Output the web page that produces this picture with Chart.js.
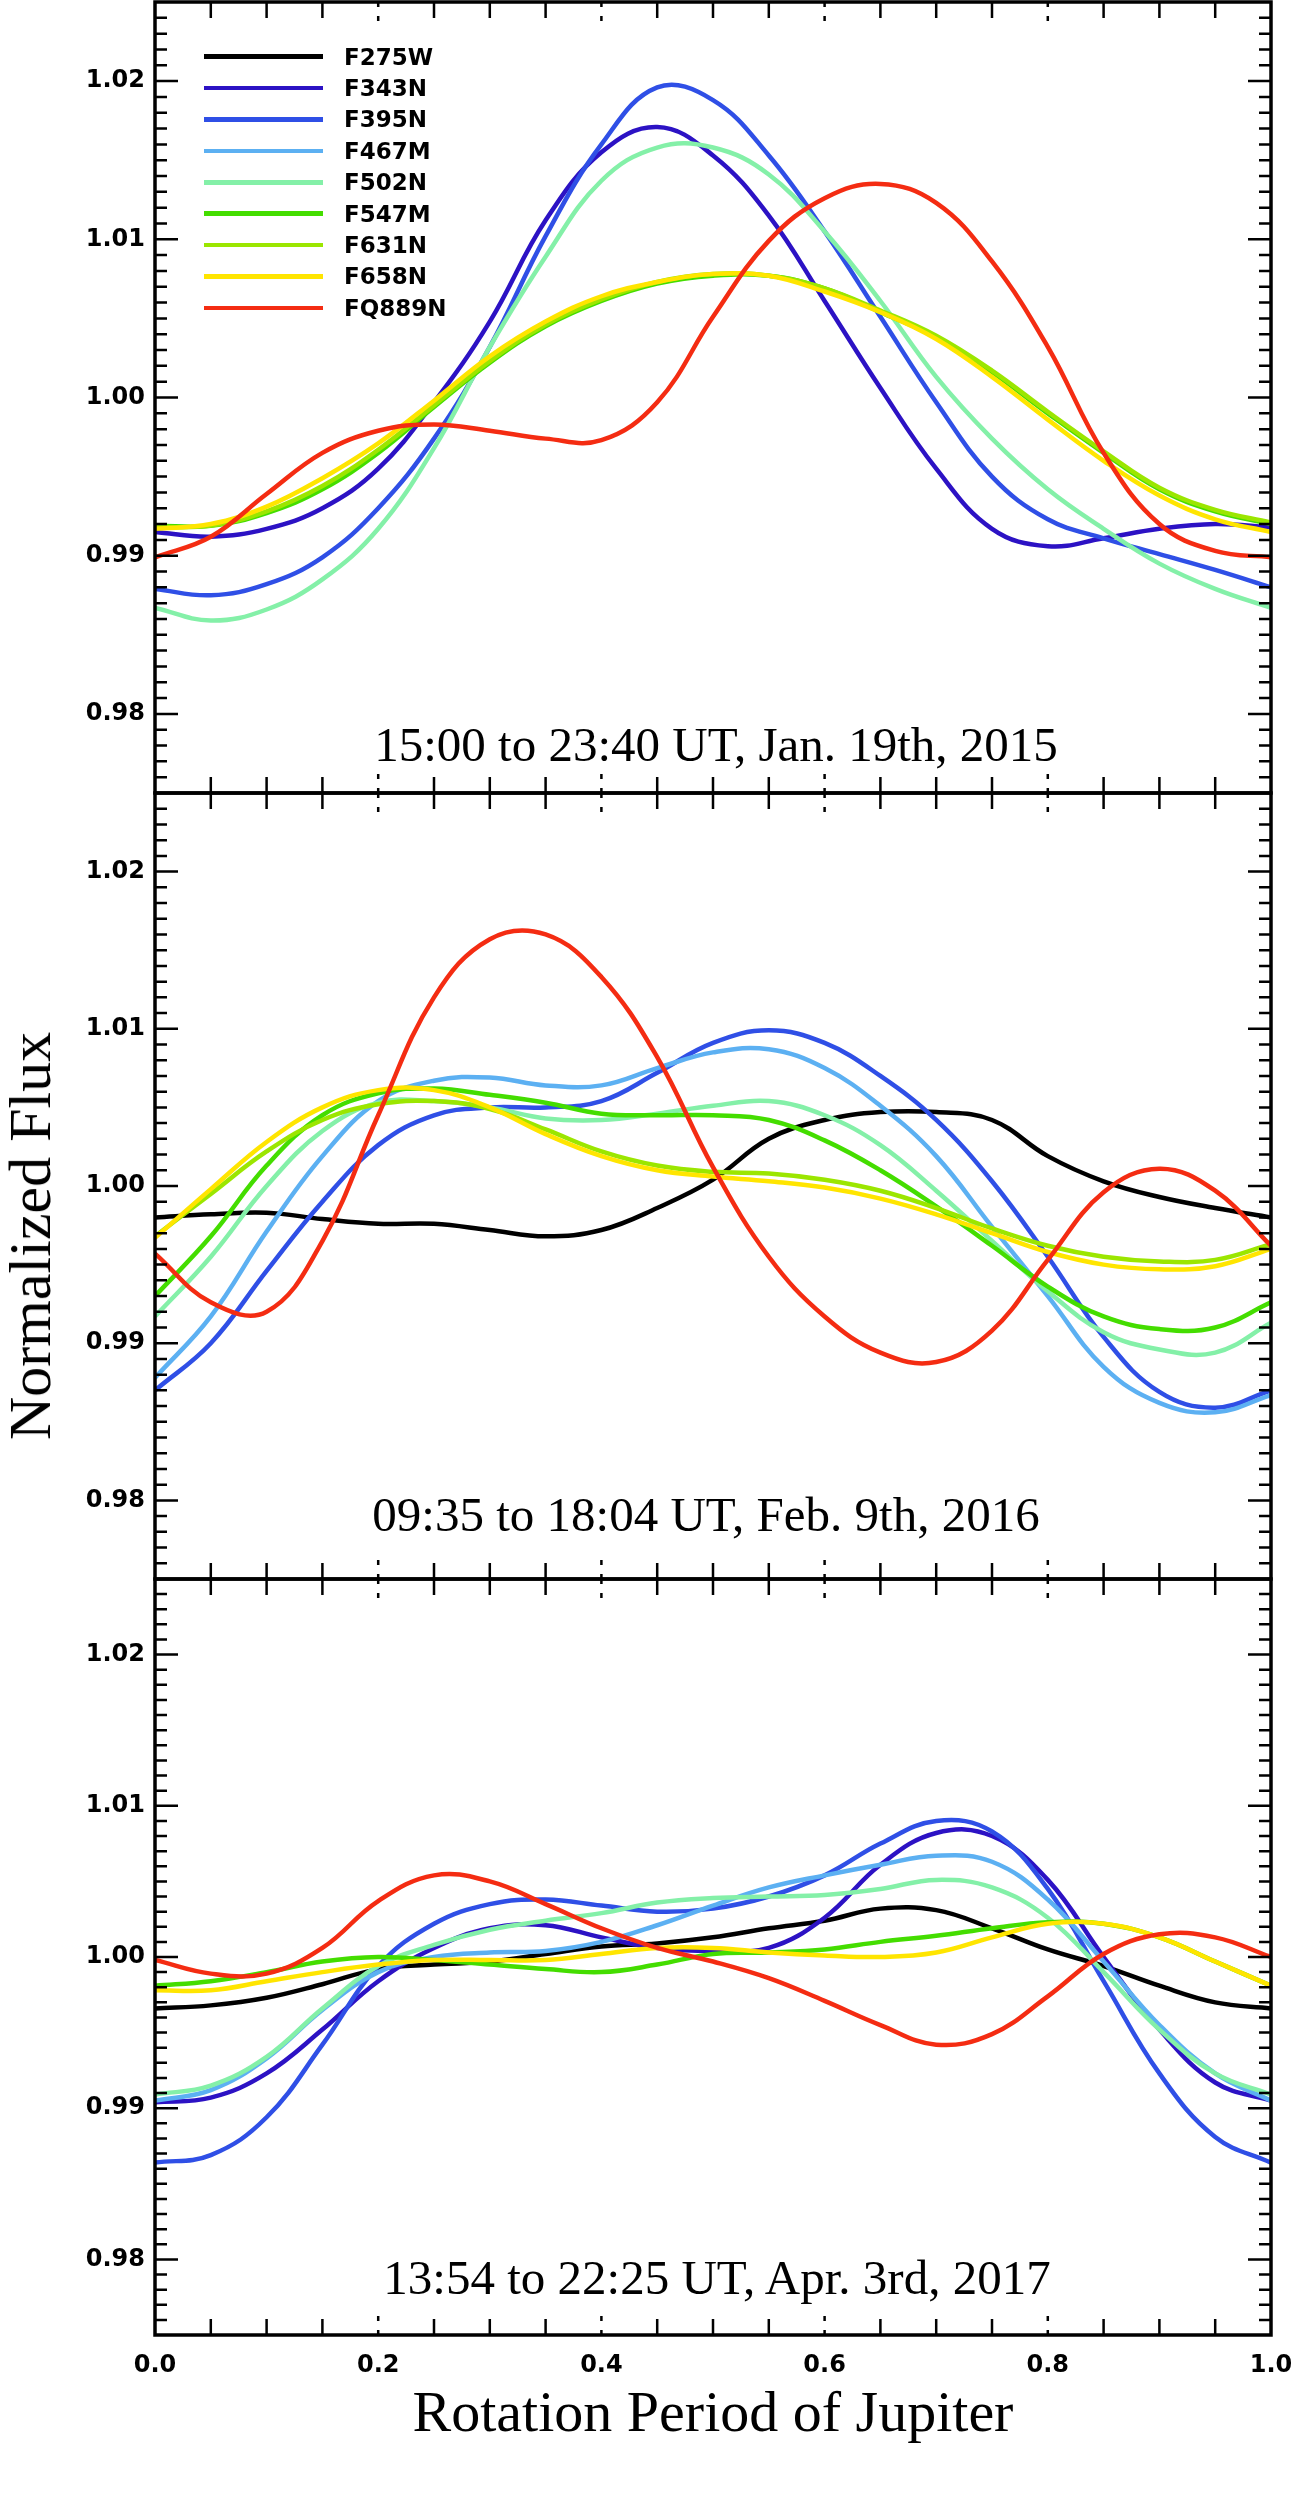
<!DOCTYPE html>
<html>
<head>
<meta charset="utf-8">
<title>Normalized Flux vs Rotation Period of Jupiter</title>
<script src="https://cdn.jsdelivr.net/npm/chart.js@4.4.1/dist/chart.umd.min.js"></script>
<style>
  body { margin: 0; background: #fff; width: 1291px; height: 2519px; position: relative; overflow: hidden; }
  canvas { position: absolute; left: 0; }
  .serif { position: absolute; font-family: "Liberation Serif", "Times New Roman", serif; color: #000; white-space: nowrap; }
  .note { font-size: 49px; line-height: 49px; transform: translateX(-50%); }
  #xtitle { font-size: 58px; line-height: 58px; left: 713px; top: 2383px; transform: translateX(-50%); }
  #ytitle { font-size: 60px; line-height: 60px; left: 30px; top: 1236px; transform: translate(-50%, -50%) rotate(-90deg); }
  #legend { position: absolute; left: 204px; top: 41px; font-family: "DejaVu Sans", sans-serif; font-weight: bold; font-size: 23px; }
  #legend .row { display: flex; align-items: center; height: 31.4px; }
  #legend .swatch { width: 119px; height: 4.5px; margin-right: 21px; }
</style>
</head>
<body>

<canvas id="p2015" width="1291" height="795" style="top:0px"></canvas>
<canvas id="p2016" width="1291" height="792" style="top:790px"></canvas>
<canvas id="p2017" width="1291" height="820" style="top:1576px"></canvas>

<div id="legend"></div>
<div class="serif note" style="left:716px; top:720px">15:00 to 23:40 UT, Jan. 19th, 2015</div>
<div class="serif note" style="left:706px; top:1490px">09:35 to 18:04 UT, Feb. 9th, 2016</div>
<div class="serif note" style="left:717px; top:2253px">13:54 to 22:25 UT, Apr. 3rd, 2017</div>
<div class="serif" id="xtitle">Rotation Period of Jupiter</div>
<div class="serif" id="ytitle">Normalized Flux</div>

<script>
// rotation phase of each sample
const phase = [0.00, 0.05, 0.10, 0.15, 0.20, 0.25, 0.30, 0.35, 0.40, 0.45, 0.50,
               0.55, 0.60, 0.65, 0.70, 0.75, 0.80, 0.85, 0.90, 0.95, 1.00];

const filters = ['F275W', 'F343N', 'F395N', 'F467M', 'F502N', 'F547M', 'F631N', 'F658N', 'FQ889N'];
const filterColors = ['#000000', '#2c12c4', '#2f4fe6', '#5cb0f2', '#84f0a8', '#44dd00', '#9be600', '#ffe500', '#f42c12'];

const xTickValues = [0.0, 0.2, 0.4, 0.6, 0.8, 1.0];
const yTickValues = [0.98, 0.99, 1.00, 1.01, 1.02];

// Jan. 19th, 2015
const jan2015_F343N  = [0.9915, 0.9912, 0.9917, 0.9930, 0.9955, 0.9997, 1.0048, 1.0112, 1.0155, 1.0171, 1.0153, 1.0115, 1.0061, 1.0006, 0.9955, 0.9917, 0.9906, 0.9911, 0.9917, 0.9920, 0.9918];
const jan2015_F395N  = [0.9879, 0.9875, 0.9882, 0.9899, 0.9930, 0.9974, 1.0032, 1.0102, 1.0160, 1.0196, 1.0188, 1.0153, 1.0105, 1.0051, 0.9997, 0.9950, 0.9923, 0.9911, 0.9901, 0.9891, 0.9880];
const jan2015_F502N  = [0.9867, 0.9859, 0.9866, 0.9885, 0.9917, 0.9968, 1.0032, 1.0089, 1.0137, 1.0158, 1.0158, 1.0141, 1.0105, 1.0061, 1.0013, 0.9974, 0.9942, 0.9917, 0.9895, 0.9879, 0.9867];
const jan2015_F547M  = [0.9919, 0.9919, 0.9927, 0.9942, 0.9965, 0.9994, 1.0022, 1.0045, 1.0061, 1.0072, 1.0077, 1.0077, 1.0069, 1.0054, 1.0038, 1.0016, 0.9990, 0.9965, 0.9942, 0.9928, 0.9920];
const jan2015_F631N  = [0.9918, 0.9919, 0.9928, 0.9944, 0.9967, 0.9995, 1.0023, 1.0046, 1.0062, 1.0073, 1.0078, 1.0077, 1.0069, 1.0055, 1.0039, 1.0017, 0.9991, 0.9966, 0.9943, 0.9929, 0.9921];
const jan2015_F658N  = [0.9917, 0.9920, 0.9931, 0.9949, 0.9971, 0.9998, 1.0026, 1.0048, 1.0064, 1.0073, 1.0078, 1.0077, 1.0067, 1.0054, 1.0037, 1.0013, 0.9986, 0.9960, 0.9938, 0.9923, 0.9915];
const jan2015_FQ889N = [0.9899, 0.9912, 0.9939, 0.9965, 0.9979, 0.9983, 0.9979, 0.9974, 0.9973, 0.9997, 1.0051, 1.0099, 1.0126, 1.0135, 1.0123, 1.0086, 1.0032, 0.9965, 0.9920, 0.9903, 0.9899];

// Feb. 9th, 2016
const feb2016_F275W  = [0.9980, 0.9982, 0.9983, 0.9979, 0.9976, 0.9976, 0.9972, 0.9968, 0.9972, 0.9986, 1.0004, 1.0030, 1.0042, 1.0047, 1.0047, 1.0042, 1.0019, 1.0003, 0.9993, 0.9986, 0.9980];
const feb2016_F395N  = [0.9870, 0.9900, 0.9946, 0.9990, 1.0026, 1.0045, 1.0050, 1.0050, 1.0054, 1.0072, 1.0091, 1.0099, 1.0091, 1.0070, 1.0042, 1.0003, 0.9955, 0.9904, 0.9869, 0.9859, 0.9870];
const feb2016_F467M  = [0.9878, 0.9917, 0.9971, 1.0019, 1.0054, 1.0067, 1.0069, 1.0064, 1.0064, 1.0075, 1.0085, 1.0087, 1.0075, 1.0051, 1.0019, 0.9974, 0.9930, 0.9885, 0.9862, 0.9856, 0.9867];
const feb2016_F502N  = [0.9917, 0.9955, 1.0000, 1.0035, 1.0053, 1.0054, 1.0050, 1.0043, 1.0042, 1.0046, 1.0051, 1.0054, 1.0045, 1.0026, 0.9997, 0.9965, 0.9933, 0.9907, 0.9896, 0.9894, 0.9913];
const feb2016_F547M  = [0.9930, 0.9968, 1.0013, 1.0045, 1.0059, 1.0062, 1.0058, 1.0053, 1.0046, 1.0045, 1.0045, 1.0042, 1.0029, 1.0010, 0.9987, 0.9962, 0.9936, 0.9917, 0.9909, 0.9910, 0.9926];
const feb2016_F631N  = [0.9968, 0.9995, 1.0022, 1.0042, 1.0052, 1.0054, 1.0049, 1.0036, 1.0022, 1.0013, 1.0009, 1.0008, 1.0004, 0.9997, 0.9986, 0.9973, 0.9962, 0.9955, 0.9952, 0.9953, 0.9963];
const feb2016_F658N  = [0.9967, 0.9998, 1.0028, 1.0050, 1.0061, 1.0061, 1.0050, 1.0033, 1.0019, 1.0010, 1.0006, 1.0003, 0.9999, 0.9992, 0.9982, 0.9970, 0.9958, 0.9950, 0.9947, 0.9949, 0.9960];
const feb2016_FQ889N = [0.9957, 0.9926, 0.9920, 0.9965, 1.0045, 1.0120, 1.0157, 1.0160, 1.0133, 1.0082, 1.0012, 0.9955, 0.9917, 0.9894, 0.9888, 0.9908, 0.9953, 0.9996, 1.0011, 0.9997, 0.9962];

// Apr. 3rd, 2017
const apr2017_F275W  = [0.9966, 0.9968, 0.9973, 0.9982, 0.9992, 0.9995, 0.9997, 1.0002, 1.0007, 1.0009, 1.0013, 1.0019, 1.0024, 1.0032, 1.0031, 1.0019, 1.0005, 0.9994, 0.9981, 0.9970, 0.9966];
const apr2017_F343N  = [0.9904, 0.9907, 0.9923, 0.9952, 0.9984, 1.0006, 1.0019, 1.0021, 1.0013, 1.0006, 1.0004, 1.0006, 1.0026, 1.0061, 1.0082, 1.0080, 1.0051, 1.0000, 0.9952, 0.9917, 0.9905];
const apr2017_F395N  = [0.9864, 0.9869, 0.9894, 0.9942, 0.9994, 1.0022, 1.0035, 1.0038, 1.0034, 1.0030, 1.0032, 1.0040, 1.0054, 1.0075, 1.0090, 1.0083, 1.0045, 0.9984, 0.9923, 0.9881, 0.9864];
const apr2017_F467M  = [0.9905, 0.9912, 0.9933, 0.9965, 0.9990, 1.0000, 1.0003, 1.0004, 1.0010, 1.0021, 1.0034, 1.0046, 1.0054, 1.0061, 1.0067, 1.0063, 1.0038, 0.9997, 0.9955, 0.9923, 0.9905];
const apr2017_F502N  = [0.9909, 0.9915, 0.9934, 0.9966, 0.9994, 1.0008, 1.0018, 1.0024, 1.0029, 1.0036, 1.0039, 1.0040, 1.0041, 1.0045, 1.0051, 1.0046, 1.0026, 0.9990, 0.9952, 0.9923, 0.9909];
const apr2017_F547M  = [0.9981, 0.9984, 0.9990, 0.9997, 1.0000, 0.9998, 0.9995, 0.9992, 0.9990, 0.9995, 1.0002, 1.0003, 1.0005, 1.0010, 1.0014, 1.0019, 1.0023, 1.0022, 1.0013, 0.9997, 0.9981];
const apr2017_F658N  = [0.9978, 0.9978, 0.9984, 0.9990, 0.9995, 0.9998, 0.9998, 0.9998, 1.0002, 1.0006, 1.0006, 1.0003, 1.0001, 1.0000, 1.0003, 1.0013, 1.0022, 1.0022, 1.0013, 0.9997, 0.9981];
const apr2017_FQ889N = [0.9998, 0.9989, 0.9989, 1.0006, 1.0037, 1.0054, 1.0050, 1.0035, 1.0019, 1.0006, 0.9997, 0.9986, 0.9971, 0.9955, 0.9942, 0.9949, 0.9974, 1.0002, 1.0015, 1.0013, 1.0000];

// legend (shown in the top panel)
const legendBox = document.getElementById('legend');
filters.forEach((f, i) => {
  const row = document.createElement('div');
  row.className = 'row';
  row.innerHTML = '<div class="swatch" style="background:' + filterColors[i] + '"></div><span>' + f + '</span>';
  legendBox.appendChild(row);
});

function makeDatasets(names, series) {
  return names.map((name, i) => {
    const k = filters.indexOf(name);
    return {
      label: name,
      data: phase.map((p, j) => ({ x: p, y: series[i][j] })),
      borderColor: filterColors[k],
      borderWidth: 4.5,
      pointRadius: 0,
      tension: 0.4,
      fill: false,
      order: filters.length - k   // later filters drawn on top
    };
  });
}

// box frame plus IDL-like inward ticks on all four sides
const frameTicks = {
  id: 'frameTicks',
  afterDatasetsDraw(chart) {
    const { ctx, chartArea: { left, right, top, bottom }, scales: { x, y } } = chart;
    ctx.save();
    ctx.strokeStyle = '#000';
    ctx.lineWidth = 3.5;
    ctx.strokeRect(left, top, right - left, bottom - top);

    ctx.lineWidth = 2.5;
    for (let k = 1; k < 50; k++) {
      const py = y.getPixelForValue(0.975 + k * 0.001);
      const len = (k % 10 === 5) ? 23 : 12;
      ctx.beginPath();
      ctx.moveTo(left, py); ctx.lineTo(left + len, py);
      ctx.moveTo(right, py); ctx.lineTo(right - len, py);
      ctx.stroke();
    }
    for (let k = 1; k < 20; k++) {
      const px = x.getPixelForValue(k * 0.05);
      const major = k % 4 === 0;
      const len = major ? 22 : 16;
      ctx.setLineDash(major ? [5, 9] : []);
      ctx.beginPath();
      ctx.moveTo(px, bottom); ctx.lineTo(px, bottom - len);
      ctx.moveTo(px, top); ctx.lineTo(px, top + len);
      ctx.stroke();
    }
    ctx.restore();
  }
};

const tickFont = { family: 'DejaVu Sans', size: 24, weight: 'bold' };

function makePanel(id, datasets, showX, padding) {
  return new Chart(document.getElementById(id), {
    type: 'line',
    data: { datasets: datasets },
    options: {
      responsive: false,
      animation: false,
      layout: { padding: padding },
      plugins: { legend: { display: false }, tooltip: { enabled: false } },
      scales: {
        x: {
          type: 'linear',
          min: 0, max: 1,
          display: showX,
          grid: { display: false, drawTicks: false },
          border: { display: false },
          afterBuildTicks: s => { s.ticks = xTickValues.map(v => ({ value: v })); },
          afterFit: s => {
            if (!showX) return;
            s.height = 60; s.paddingLeft = 0; s.paddingRight = 0;
          },
          ticks: { color: '#000', font: tickFont, padding: 16, maxRotation: 0, autoSkip: false,
                   callback: v => v.toFixed(1) }
        },
        y: {
          min: 0.975, max: 1.025,
          grid: { display: false, drawTicks: false },
          border: { display: false },
          afterBuildTicks: s => { s.ticks = yTickValues.map(v => ({ value: v })); },
          afterFit: s => { s.width = 155; s.paddingTop = 0; s.paddingBottom = 0; },
          ticks: { color: '#000', font: tickFont, padding: 10, callback: v => v.toFixed(2) }
        }
      }
    },
    plugins: [frameTicks]
  });
}

makePanel('p2015', makeDatasets(
  ['F343N', 'F395N', 'F502N', 'F547M', 'F631N', 'F658N', 'FQ889N'],
  [jan2015_F343N, jan2015_F395N, jan2015_F502N, jan2015_F547M, jan2015_F631N, jan2015_F658N, jan2015_FQ889N]
), false, { top: 2, bottom: 2, left: 0, right: 20 });

makePanel('p2016', makeDatasets(
  ['F275W', 'F395N', 'F467M', 'F502N', 'F547M', 'F631N', 'F658N', 'FQ889N'],
  [feb2016_F275W, feb2016_F395N, feb2016_F467M, feb2016_F502N, feb2016_F547M, feb2016_F631N, feb2016_F658N, feb2016_FQ889N]
), false, { top: 3, bottom: 3, left: 0, right: 20 });

makePanel('p2017', makeDatasets(
  ['F275W', 'F343N', 'F395N', 'F467M', 'F502N', 'F547M', 'F658N', 'FQ889N'],
  [apr2017_F275W, apr2017_F343N, apr2017_F395N, apr2017_F467M, apr2017_F502N, apr2017_F547M, apr2017_F658N, apr2017_FQ889N]
), true, { top: 3, bottom: 1, left: 0, right: 20 });
</script>
</body>
</html>
